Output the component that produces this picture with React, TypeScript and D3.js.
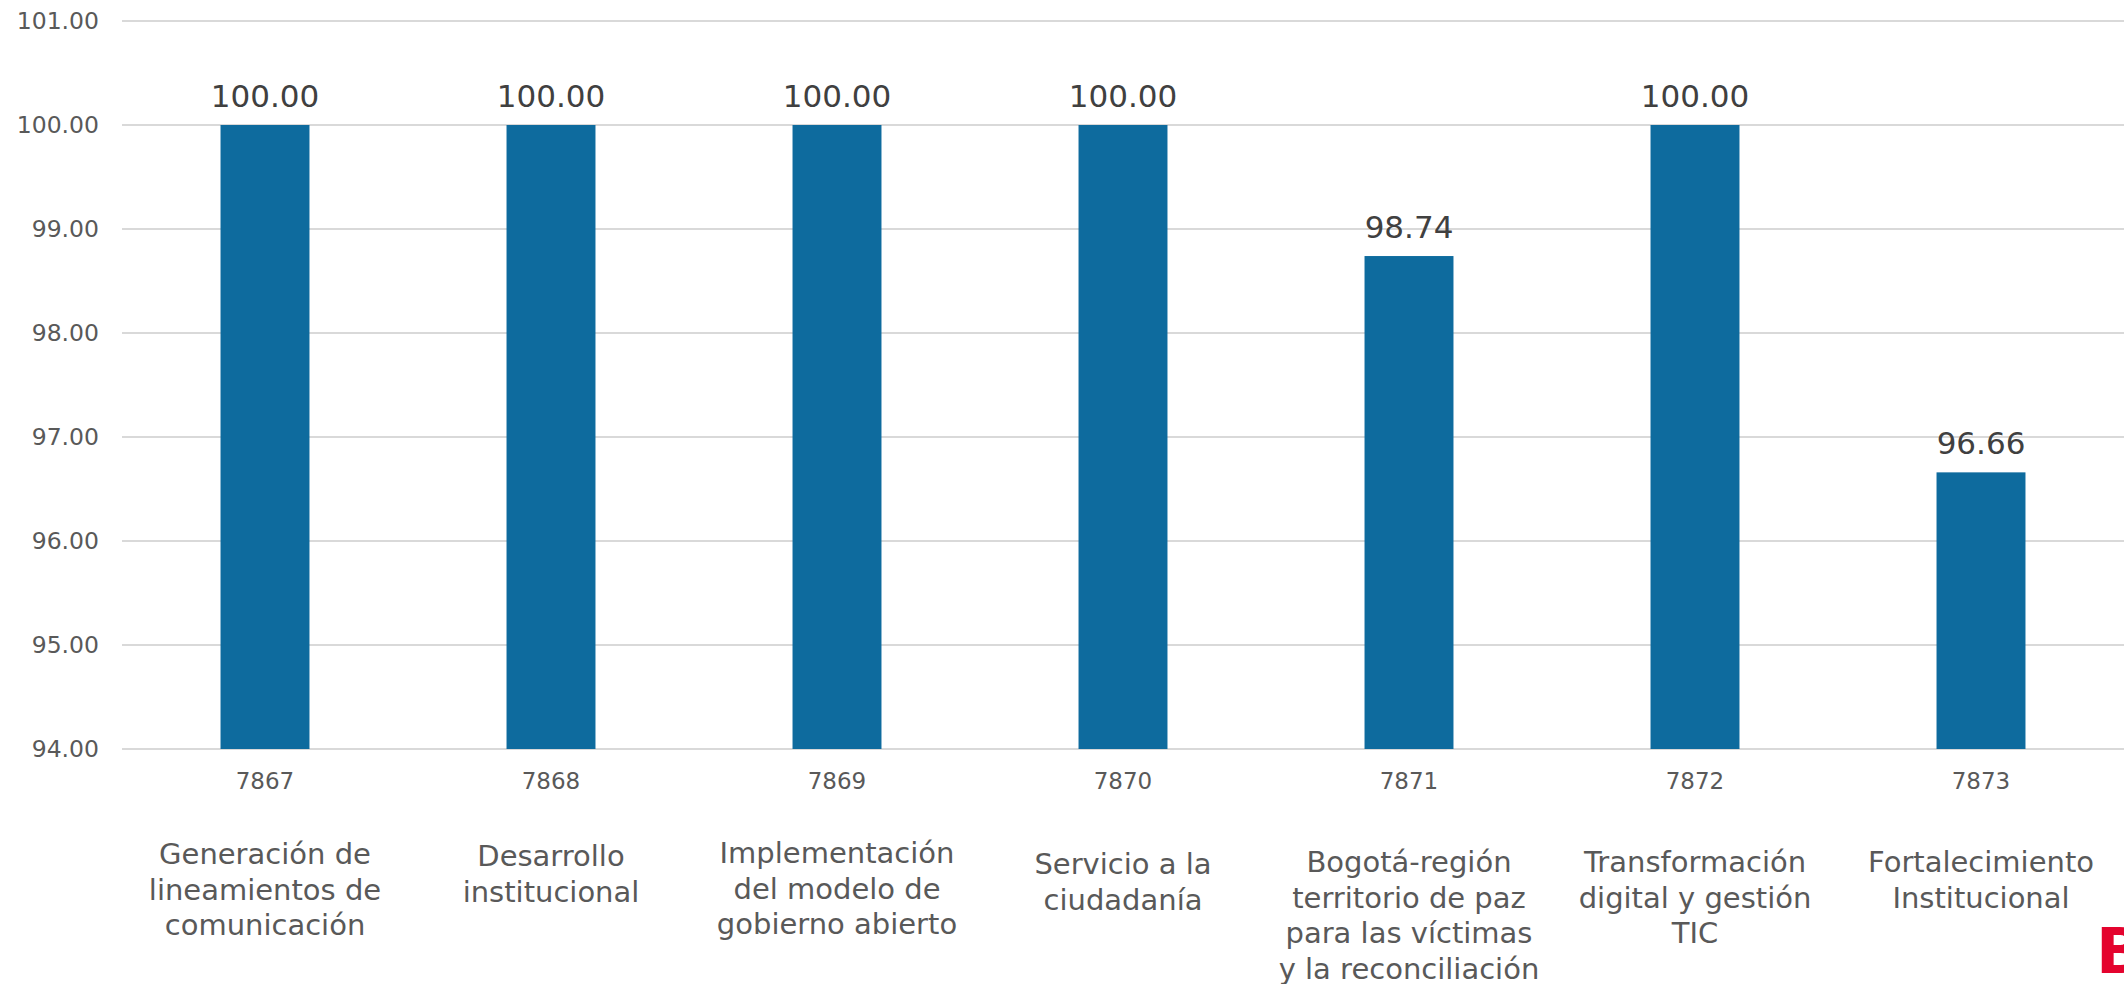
import React from "react";
import * as d3 from "d3";

const codes = ["7867", "7868", "7869", "7870", "7871", "7872", "7873"];
const values = [100.0, 100.0, 100.0, 100.0, 98.74, 100.0, 96.66];
const names = [
  ["Generación de", "lineamientos de", "comunicación"],
  ["Desarrollo", "institucional"],
  ["Implementación", "del modelo de", "gobierno abierto"],
  ["Servicio a la", "ciudadanía"],
  ["Bogotá-región", "territorio de paz", "para las víctimas", "y la reconciliación"],
  ["Transformación", "digital y gestión", "TIC"],
  ["Fortalecimiento", "Institucional"],
];
const yTicks = [94, 95, 96, 97, 98, 99, 100, 101];

const W = 2124;
const H = 984;
const FONT = "'DejaVu Sans', Verdana, sans-serif";
const BAR = "#0E6B9E";

const App: React.FC = () => {
  const x = d3.scaleBand<string>().domain(codes).range([122, 122 + 286 * 7]).paddingInner(0.689).paddingOuter(0.3445);
  const y = d3.scaleLinear().domain([94, 101]).range([749, 21]);
  const fmt = d3.format(".2f");
  // first-line baseline of the wrapped names (Excel shifts them a little)
  const nameTop = [864, 866, 863, 874, 872, 872, 872];

  return (
    <svg width={W} height={H} style={{ position: "absolute", left: 0, top: 0, background: "#fff" }}>
      <g>
        {yTicks.map((t) => (
          <g key={t}>
            <line x1={122} x2={W} y1={y(t)} y2={y(t)} stroke="#D9D9D9" strokeWidth={2} />
            <text x={99} y={y(t)} dy="0.36em" textAnchor="end" fontFamily={FONT} fontSize={23.5} fill="#595959">
              {fmt(t)}
            </text>
          </g>
        ))}
      </g>
      <g>
        {codes.map((c, i) => (
          <rect key={c} x={x(c)} y={y(values[i])} width={x.bandwidth()} height={y(94) - y(values[i])} fill={BAR} />
        ))}
      </g>
      <g fontFamily={FONT} textAnchor="middle">
        {codes.map((c, i) => {
          const cx = (x(c) as number) + x.bandwidth() / 2;
          return (
            <g key={c}>
              <text x={cx} y={y(values[i]) - 18} fontSize={31} fill="#404040">{fmt(values[i])}</text>
              <text x={cx} y={789} fontSize={23} fill="#595959">{c}</text>
              <text fontSize={29} fill="#595959">
                {names[i].map((ln, j) => (
                  <tspan key={j} x={cx} y={nameTop[i] + j * 35.5}>{ln}</tspan>
                ))}
              </text>
            </g>
          );
        })}
      </g>
      <text x={2096} y={973} fontFamily={FONT} fontWeight="bold" fontSize={63} fill="#E4032E">B</text>
    </svg>
  );
};

export default App;
